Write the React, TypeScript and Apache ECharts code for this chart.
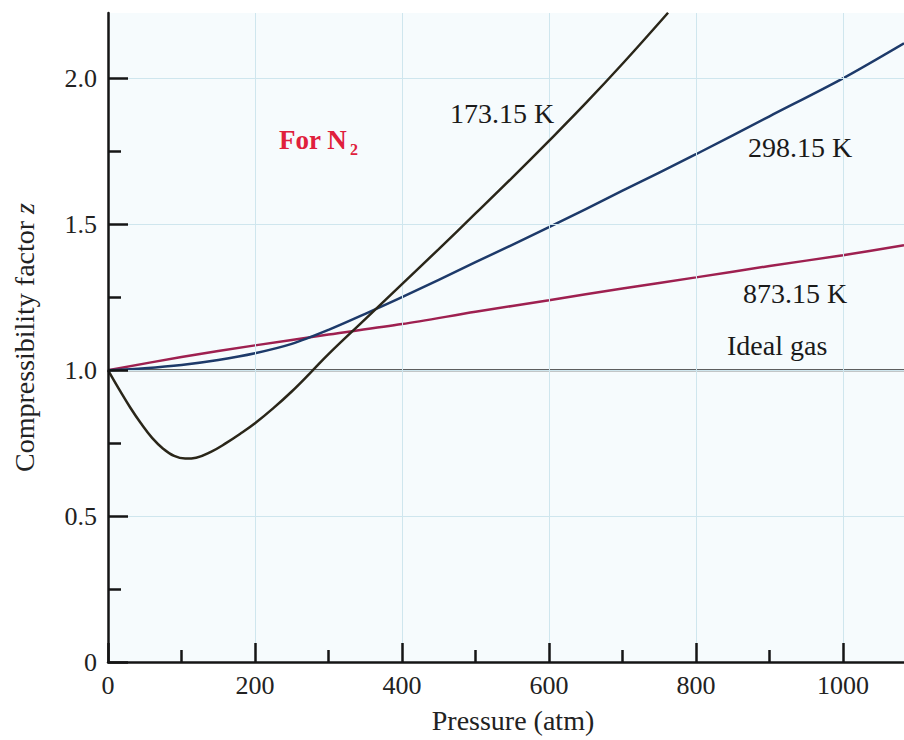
import React, { useEffect, useRef } from "react";
import * as echarts from "echarts";

// ---- data ----
const pressure173 = [0, 15, 30, 45, 60, 75, 90, 105, 120, 140, 160, 180, 200, 225, 250, 275, 300, 350, 400, 450, 500, 550, 600, 650, 700, 762];
const z173 = [1.0, 0.935, 0.873, 0.817, 0.768, 0.731, 0.706, 0.697, 0.7, 0.72, 0.749, 0.782, 0.818, 0.87, 0.927, 0.99, 1.055, 1.175, 1.295, 1.415, 1.537, 1.66, 1.786, 1.915, 2.05, 2.225];

const pressure298 = [0, 50, 100, 150, 200, 250, 300, 350, 400, 500, 600, 700, 800, 900, 1000, 1083];
const z298 = [1.0, 1.007, 1.018, 1.035, 1.058, 1.09, 1.138, 1.193, 1.25, 1.37, 1.49, 1.615, 1.74, 1.87, 2.0, 2.12];

const pressure873 = [0, 100, 200, 300, 400, 500, 600, 700, 800, 900, 1000, 1083];
const z873 = [1.0, 1.045, 1.085, 1.122, 1.158, 1.2, 1.24, 1.28, 1.318, 1.357, 1.394, 1.428];

const pressureIdeal = [0, 1083];
const zIdeal = [1.0, 1.0];

const xMajorTicks = [0, 200, 400, 600, 800, 1000];
const xMinorTicks = [100, 300, 500, 700, 900];
const yMajorTicks = [0, 0.5, 1.0, 1.5, 2.0];
const yMinorTicks = [0.25, 0.75, 1.25, 1.75];
const xGridLines = [200, 400, 600, 800, 1000];
const yGridLines = [0.5, 1.0, 1.5, 2.0];

const X_MAX = 1083;
const Y_MAX = 2.224;

const FONT = "'Liberation Serif', 'Times New Roman', serif";

const zip = (xs: number[], ys: number[]) => xs.map((x, i) => [x, ys[i]]);

export default function App() {
  const ref = useRef<HTMLDivElement>(null);

  useEffect(() => {
    if (!ref.current) return;
    const chart = echarts.init(ref.current, undefined, { renderer: "svg" });

    const axisColor = "#151515";
    const labelStyle = { fontFamily: FONT, fontSize: 26, color: "#222" };

    const option: any = {
      animation: false,
      backgroundColor: "#ffffff",
      grid: {
        left: 108,
        top: 13,
        right: 0,
        bottom: 78,
        show: true,
        backgroundColor: "#f6fbfd",
        borderWidth: 0,
      },
      xAxis: [
        {
          type: "value",
          min: 0,
          max: X_MAX,
          position: "bottom",
          z: 10,
          axisLine: { show: true, onZero: false, lineStyle: { color: axisColor, width: 2.5 } },
          axisTick: {
            show: true,
            inside: true,
            length: 19,
            customValues: xMajorTicks,
            lineStyle: { color: axisColor, width: 2.5 },
          },
          axisLabel: {
            ...labelStyle,
            margin: 10,
            customValues: xMajorTicks,
            formatter: (v: number) => String(v),
          },
          splitLine: { show: false },
          name: "Pressure (atm)",
          nameLocation: "middle",
          nameGap: 44,
          nameTextStyle: { fontFamily: FONT, fontSize: 28, color: "#222", padding: [0, 0, 0, 14] },
        },
        {
          type: "value",
          min: 0,
          max: X_MAX,
          position: "bottom",
          z: 10,
          axisLine: { show: false },
          axisTick: {
            show: true,
            inside: true,
            length: 12,
            customValues: xMinorTicks,
            lineStyle: { color: axisColor, width: 2.5 },
          },
          axisLabel: { show: false },
          splitLine: { show: false },
        },
      ],
      yAxis: [
        {
          type: "value",
          min: 0,
          max: Y_MAX,
          position: "left",
          z: 10,
          axisLine: { show: true, onZero: false, lineStyle: { color: axisColor, width: 2.5 } },
          axisTick: {
            show: true,
            inside: true,
            length: 20,
            customValues: yMajorTicks,
            lineStyle: { color: axisColor, width: 2.5 },
          },
          axisLabel: {
            ...labelStyle,
            margin: 11,
            customValues: yMajorTicks,
            formatter: (v: number) => (v === 0 ? "0" : v.toFixed(1)),
          },
          splitLine: { show: false },
          name: "Compressibility factor {i|z}",
          nameLocation: "middle",
          nameGap: 70,
          nameRotate: 90,
          nameTextStyle: {
            fontFamily: FONT,
            fontSize: 28,
            color: "#222",
            rich: { i: { fontFamily: FONT, fontSize: 28, fontStyle: "italic", color: "#222" } },
          },
        },
        {
          type: "value",
          min: 0,
          max: Y_MAX,
          position: "left",
          z: 10,
          axisLine: { show: false },
          axisTick: {
            show: true,
            inside: true,
            length: 13,
            customValues: yMinorTicks,
            lineStyle: { color: axisColor, width: 2.5 },
          },
          axisLabel: { show: false },
          splitLine: { show: false },
        },
      ],
      series: [
        {
          name: "grid",
          type: "line",
          data: [],
          z: 1,
          silent: true,
          markLine: {
            silent: true,
            symbol: "none",
            label: { show: false },
            lineStyle: { color: "#cfe6ee", width: 1, type: "solid" },
            data: [
              ...xGridLines.map((v) => ({ xAxis: v })),
              ...yGridLines.map((v) => ({ yAxis: v })),
            ],
          },
        },
        {
          name: "Ideal gas",
          type: "line",
          data: zip(pressureIdeal, zIdeal),
          showSymbol: false,
          z: 2,
          lineStyle: { color: "#2a2a2a", width: 2 },
        },
        {
          name: "873.15 K",
          type: "line",
          data: zip(pressure873, z873),
          showSymbol: false,
          smooth: 0.3,
          z: 3,
          lineStyle: { color: "#9e2050", width: 2.5 },
        },
        {
          name: "298.15 K",
          type: "line",
          data: zip(pressure298, z298),
          showSymbol: false,
          smooth: 0.3,
          z: 4,
          lineStyle: { color: "#1d3a6a", width: 2.5 },
        },
        {
          name: "173.15 K",
          type: "line",
          data: zip(pressure173, z173),
          showSymbol: false,
          smooth: 0.4,
          z: 5,
          lineStyle: { color: "#2a2619", width: 2.5 },
        },
      ],
      graphic: [
        {
          type: "text",
          left: 279,
          top: 126,
          z: 10,
          style: { text: "For N", fontFamily: FONT, fontSize: 27, fontWeight: "bold", fill: "#e0203c" },
        },
        {
          type: "text",
          left: 350,
          top: 141,
          z: 10,
          style: { text: "2", fontFamily: FONT, fontSize: 16, fontWeight: "bold", fill: "#e0203c" },
        },
        {
          type: "text",
          left: 450,
          top: 99,
          z: 10,
          style: { text: "173.15 K", fontFamily: FONT, fontSize: 28, fill: "#1a1a1a" },
        },
        {
          type: "text",
          left: 748,
          top: 133,
          z: 10,
          style: { text: "298.15 K", fontFamily: FONT, fontSize: 28, fill: "#1a1a1a" },
        },
        {
          type: "text",
          left: 743,
          top: 279,
          z: 10,
          style: { text: "873.15 K", fontFamily: FONT, fontSize: 28, fill: "#1a1a1a" },
        },
        {
          type: "text",
          left: 727,
          top: 331,
          z: 10,
          style: { text: "Ideal gas", fontFamily: FONT, fontSize: 28, fill: "#1a1a1a" },
        },
      ],
    };

    chart.setOption(option);
    return () => chart.dispose();
  }, []);

  return (
    <div
      ref={ref}
      style={{ position: "fixed", left: 0, top: 0, width: 904, height: 740, background: "#fff" }}
    />
  );
}
